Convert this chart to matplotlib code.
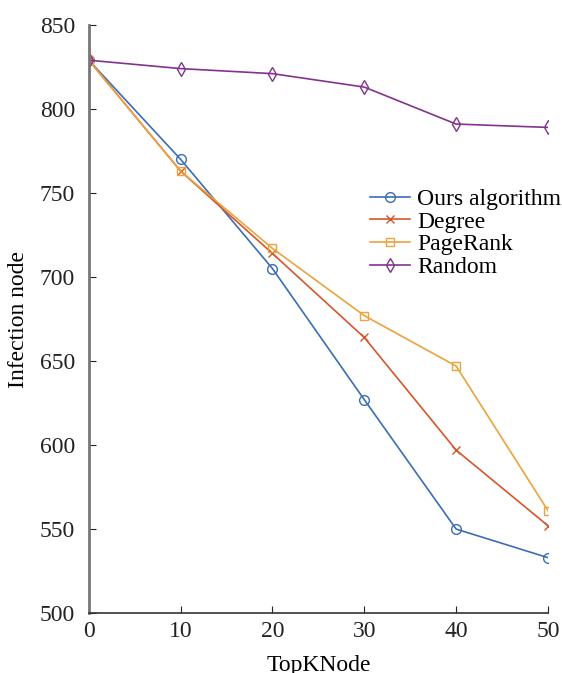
import numpy as np
import matplotlib.pyplot as plt

plt.rcParams['font.family'] = ['Liberation Serif', 'DejaVu Serif']

# Infected nodes after removing the top-K nodes chosen by each method
topk = [0, 10, 20, 30, 40, 50]
ours = [829, 770, 705, 627, 550, 533]
degree = [829, 763, 714, 664, 597, 552]
pagerank = [829, 763, 717, 677, 647, 561]
rand = [829, 824, 821, 813, 791, 789]

fig = plt.figure(figsize=(5.62, 6.73), dpi=100)
ax = fig.add_axes([0.158, 0.089, 0.817, 0.874])

ax.plot(topk, ours, color='#3A6DB5', marker='o', ms=7, mfc='none', lw=1.2, label='Ours algorithm')
ax.plot(topk, degree, color='#D6562B', marker='x', ms=6, lw=1.2, label='Degree')
ax.plot(topk, pagerank, color='#EBA33E', marker='s', ms=6, mfc='none', lw=1.2, label='PageRank')
ax.plot(topk, rand, color='#84328D', marker='d', ms=7, mfc='none', lw=1.2, label='Random')

ax.set_xlim(0, 50)
ax.set_ylim(500, 850)
ax.set_xticks(topk)
ax.set_yticks(np.arange(500, 851, 50))

ax.spines['top'].set_visible(False)
ax.spines['right'].set_visible(False)
ax.spines['left'].set_color('#777777')
ax.spines['left'].set_linewidth(2)
ax.spines['bottom'].set_color('#333333')
ax.spines['bottom'].set_linewidth(1.2)
ax.tick_params(direction='in', length=5, labelsize=17, colors='#222222', pad=6)
ax.tick_params(axis='y', pad=10)

ax.set_xlabel('TopKNode', fontsize=17, labelpad=9)
ax.set_ylabel('Infection node', fontsize=17, labelpad=8)

ax.legend(loc='upper left', bbox_to_anchor=(0.612, 0.722), frameon=False, fontsize=17,
          handlelength=1.7, handletextpad=0.3, labelspacing=0.05, borderaxespad=0,
          borderpad=0)

fig.savefig('out.png', dpi=100)
